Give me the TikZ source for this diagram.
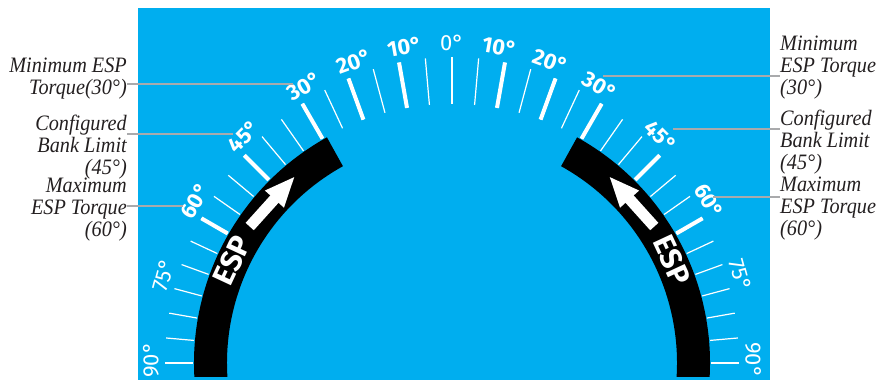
\documentclass[tikz,border=0pt]{standalone}
\usepackage{fontspec}
\usetikzlibrary{arrows.meta}
\newfontfamily\calloutfont[FakeStretch=0.92]{Liberation Serif}
\newfontfamily\dialfont{Fira Sans}
\definecolor{skyblue}{HTML}{00AEEF}
\definecolor{calloutgray}{HTML}{A9AAAC}
\definecolor{inkblack}{HTML}{231F20}

\begin{document}
\begin{tikzpicture}[x=1pt,y=1pt,
  tick/.style={white,line width=1.2pt},
  majortick/.style={white,line width=4pt},
  boldlbl/.style={white,anchor=south,inner sep=1pt,font=\dialfont\bfseries\fontsize{22}{22}\selectfont},
  thinlbl/.style={white,anchor=south,inner sep=1pt,font=\dialfont\fontsize{22}{22}\selectfont},
  band/.style={fill=black},
  esparrow/.style={white,line width=11pt,-{Triangle[width=23pt,length=31pt]}},
  esplbl/.style={white,font=\dialfont\bfseries\fontsize{30}{30}\selectfont},
  callout/.style={calloutgray,line width=2pt},
  callouttxt/.style={text=inkblack,inner sep=0pt,font=\calloutfont\itshape\fontsize{22}{22}\selectfont}]

\useasboundingbox (0,0) rectangle (878,380);
\fill[skyblue] (138,0) rectangle (770,372);
\coordinate (ctr) at (452,17);

% black ESP bands
\begin{scope}
\clip (138,3) rectangle (770,372);
\fill[band] ([shift={(119:258)}]ctr) arc[start angle=119,end angle=190,radius=258]
  -- ([shift={(190:225)}]ctr) arc[start angle=190,end angle=119,radius=225] -- cycle;
\fill[band] ([shift={(61:258)}]ctr) arc[start angle=61,end angle=-10,radius=258]
  -- ([shift={(-10:225)}]ctr) arc[start angle=-10,end angle=61,radius=225] -- cycle;
\end{scope}

% bank scale
\foreach \a in {0,5,...,90}{
  \pgfmathsetmacro\len{28+19*cos(\a)^3}
  \draw[tick] ([shift={(90+\a:259)}]ctr) -- ([shift={(90+\a:259+\len)}]ctr);
  \draw[tick] ([shift={(90-\a:259)}]ctr) -- ([shift={(90-\a:259+\len)}]ctr);
}
\foreach \a in {10,20,30,45,60}{
  \pgfmathsetmacro\len{28+19*cos(\a)^3}
  \draw[majortick] ([shift={(90+\a:259)}]ctr) -- ([shift={(90+\a:259+\len)}]ctr);
  \draw[majortick] ([shift={(90-\a:259)}]ctr) -- ([shift={(90-\a:259+\len)}]ctr);
}
\node[thinlbl] (lab0) at ([shift={(90:311)}]ctr) {0°};
\foreach \a/\s/\d in {10/boldlbl/1.5,20/boldlbl/2,30/boldlbl/2,45/boldlbl/2.5,60/boldlbl/2.3,75/thinlbl/2,90/thinlbl/0.6}{
  \pgfmathsetmacro\rr{264+28+19*cos(\a)^3}
  \node[\s,rotate=\a] (lab\a l) at ([shift={(90+\a-\d:\rr)}]ctr) {\a°};
  \node[\s,rotate=-\a] (lab\a r) at ([shift={(90-\a+\d:\rr)}]ctr) {\a°};
}

% ESP arrows and labels
\draw[esparrow] ([shift={(146:244)}]ctr) -- ([shift={(130:244)}]ctr);
\draw[esparrow] ([shift={(34:244)}]ctr) -- ([shift={(50:244)}]ctr);
\node[esplbl,rotate=65] (espl) at ([shift={(155:243)}]ctr) {ESP};
\node[esplbl,rotate=-65] (espr) at ([shift={(25:243)}]ctr) {ESP};

% callouts
\node[callouttxt,align=right,anchor=north east] (t30l) at (127,322) {Minimum ESP\\Torque(30°)};
\node[callouttxt,align=right,anchor=north east] (t45l) at (127,265) {Configured\\Bank Limit\\(45°)};
\node[callouttxt,align=right,anchor=north east] (t60l) at (127,202) {Maximum\\ESP Torque\\(60°)};
\node[callouttxt,align=left,anchor=north west] (t30r) at (780,344) {Minimum\\ESP Torque\\(30°)};
\node[callouttxt,align=left,anchor=north west] (t45r) at (780,270) {Configured\\Bank Limit\\(45°)};
\node[callouttxt,align=left,anchor=north west] (t60r) at (780,203) {Maximum\\ESP Torque\\(60°)};

\coordinate (p30l) at (293,296);
\coordinate (p45l) at (233,246);
\coordinate (p60l) at (183,174);
\coordinate (p30r) at (603,304);
\coordinate (p45r) at (673,251);
\coordinate (p60r) at (713,183);
\draw[callout] (t30l.east |- p30l) -- (p30l);
\draw[callout] (t45l.east |- p45l) -- (p45l);
\draw[callout] (t60l.east |- p60l) -- (p60l);
\draw[callout] (p30r) -- (t30r.west |- p30r);
\draw[callout] (p45r) -- (t45r.west |- p45r);
\draw[callout] (p60r) -- (t60r.west |- p60r);
\end{tikzpicture}
\end{document}
